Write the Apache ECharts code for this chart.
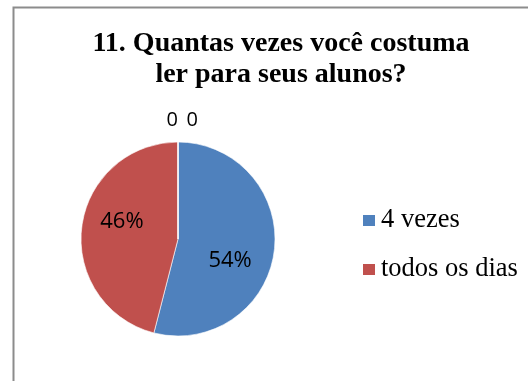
<!DOCTYPE html>
<html>
<head>
<meta charset="utf-8">
<script src="https://cdn.jsdelivr.net/npm/echarts@6/dist/echarts.min.js"></script>
<style>html,body{margin:0;padding:0;background:#fff}#c{width:528px;height:381px}</style>
</head>
<body>
<div id="c"></div>
<script>
const titleText = '11. Quantas vezes você costuma\nler para seus alunos?';
const categories = ['4 vezes', 'todos os dias', '1 vez', '2 vezes'];
const values = [54, 46, 0, 0];
const legendItems = ['4 vezes', 'todos os dias'];
const colors = ['#4F81BD', '#C0504D', '#9BBB59', '#8064A2'];

const SERIF = "'Liberation Serif', 'Times New Roman', serif";
const SANS = "'Open Sans', 'Noto Sans', sans-serif";
const labelShift = {0: [1, 15], 1: [-5, -11], 2: [5, 0], 3: [25, 0]};

const chart = echarts.init(document.getElementById('c'), null, {renderer: 'canvas'});
chart.setOption({
  animation: false,
  color: colors,
  graphic: [{
    type: 'rect', left: 11, top: 5,
    shape: {width: 600, height: 500},
    style: {fill: 'none', stroke: '#8c8c8c', lineWidth: 2}
  }],
  title: {
    text: titleText,
    left: 276, top: 23, textAlign: 'center',
    textStyle: {fontFamily: SERIF, fontWeight: 'bold', fontSize: 28, lineHeight: 31, color: '#000'}
  },
  legend: {
    data: legendItems,
    orient: 'vertical',
    left: 356, top: 202,
    itemWidth: 14, itemHeight: 13, itemGap: 22,
    icon: 'rect',
    textStyle: {fontFamily: SERIF, fontSize: 26.5, color: '#000'}
  },
  series: [{
    type: 'pie',
    center: [178, 239],
    radius: 97,
    startAngle: 90,
    clockwise: true,
    avoidLabelOverlap: false,
    stillShowZeroSum: true,
    itemStyle: {borderColor: '#fff', borderWidth: 0.6},
    label: {
      position: 'inside',
      fontFamily: SANS, fontSize: 22, color: '#000',
      formatter: p => p.value > 0 ? Math.round(p.percent) + '%' : String(p.value)
    },
    labelLine: {show: false, length: 22, length2: 0},
    labelLayout: p => {
      const s = labelShift[p.dataIndex];
      return s ? {dx: s[0], dy: s[1]} : {};
    },
    data: categories.map((name, i) => {
      const d = {name: name, value: values[i]};
      if (values[i] === 0) {
        d.label = {position: 'outside', fontSize: 20};
      }
      return d;
    })
  }]
});
</script>
</body>
</html>
